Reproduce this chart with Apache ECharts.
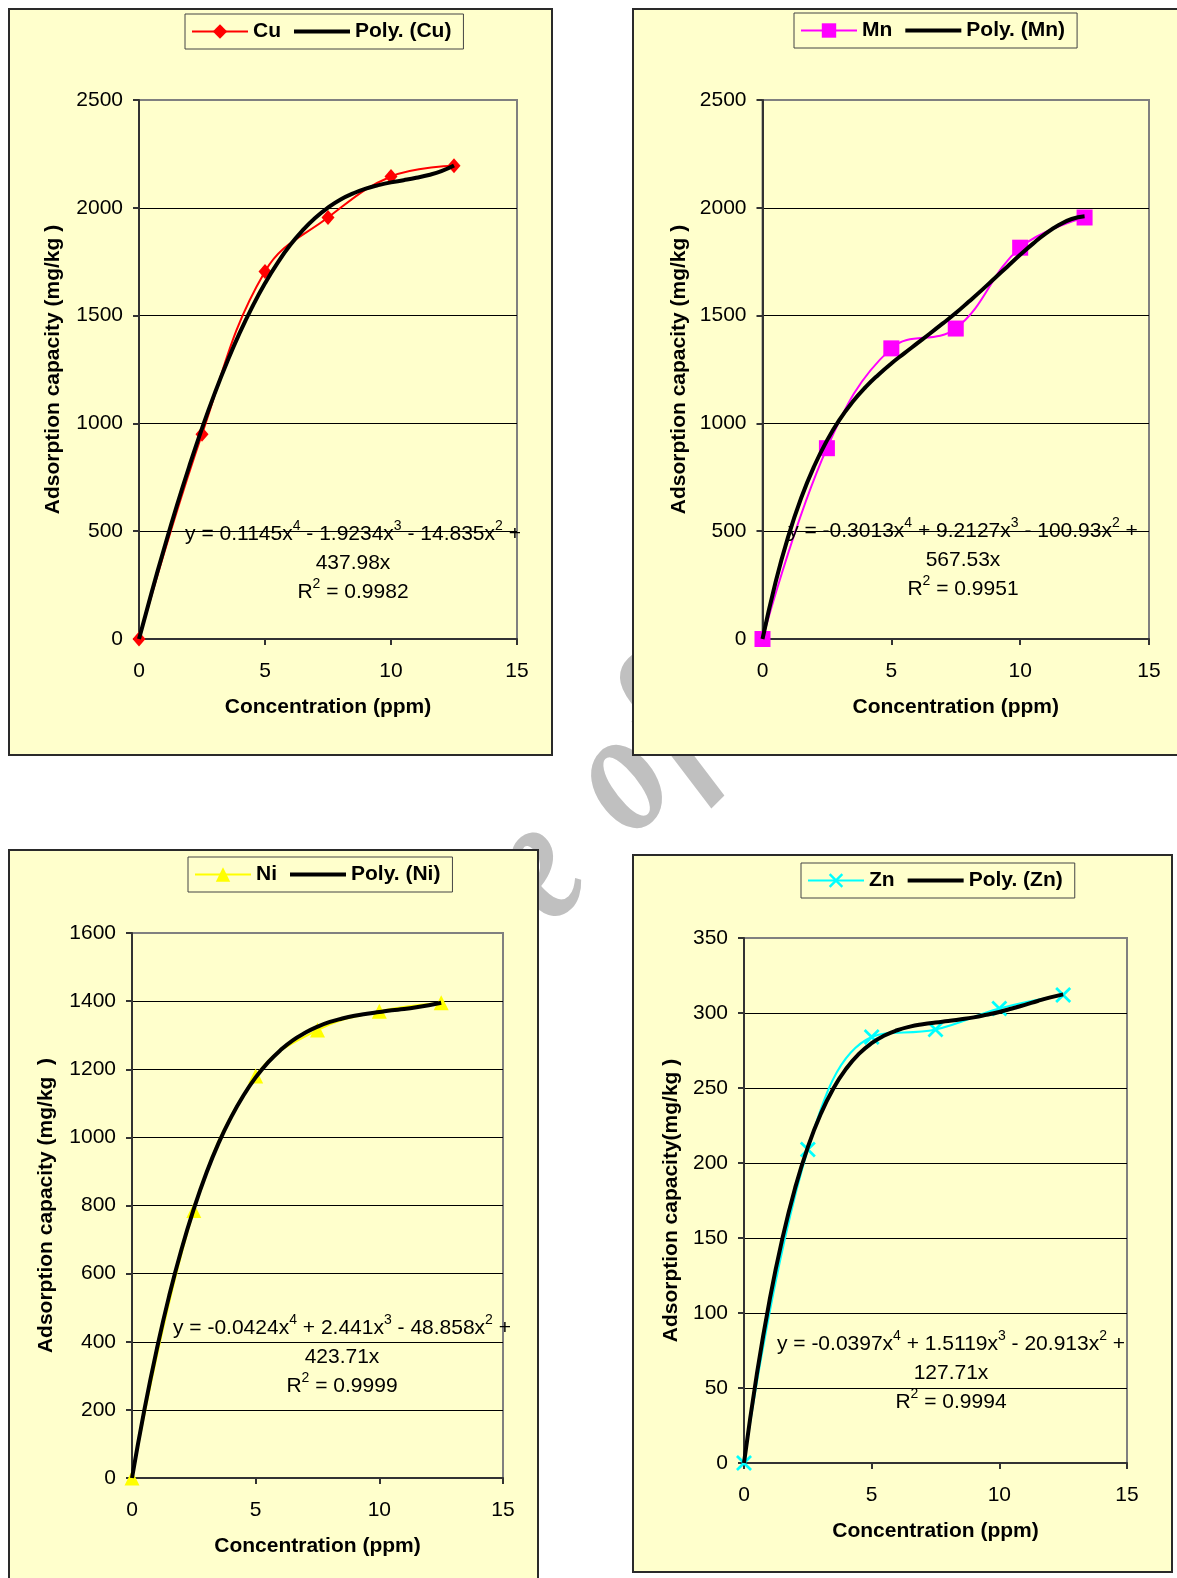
<!DOCTYPE html>
<html><head><meta charset="utf-8">
<script src="https://cdn.jsdelivr.net/npm/echarts@6/dist/echarts.min.js"></script>
<style>html,body{margin:0;padding:0;background:#fff}#c{width:1177px;height:1578px}</style>
</head><body><div id="c"></div>
<script>
// ---------- data ----------
const concentrations = [0, 2.5, 5, 7.5, 10, 12.5];
const cuValues = [0, 950, 1705, 1955, 2145, 2195];
const mnValues = [0, 885, 1348, 1440, 1815, 1955];
const niValues = [0, 785, 1180, 1315, 1370, 1395];
const znValues = [0, 209, 284, 289, 303, 312];

// polynomial trend lines
const trendX  = [0, 0.5, 1, 1.5, 2, 2.5, 3, 3.5, 4, 4.5, 5, 5.5, 6, 6.5, 7, 7.5, 8, 8.5, 9, 9.5, 10, 10.5, 11, 11.5, 12, 12.5];
const cuTrend = [0, 215, 421, 618, 803, 977, 1138, 1286, 1421, 1542, 1650, 1745, 1827, 1896, 1954, 2001, 2039, 2067, 2089, 2105, 2118, 2128, 2139, 2152, 2170, 2196];
const mnTrend = [0, 260, 476, 654, 800, 920, 1019, 1100, 1168, 1226, 1278, 1325, 1371, 1417, 1464, 1512, 1564, 1617, 1672, 1727, 1782, 1834, 1881, 1920, 1948, 1961];
const niTrend = [0, 200, 377, 534, 671, 790, 894, 983, 1058, 1122, 1176, 1220, 1256, 1285, 1307, 1325, 1339, 1349, 1357, 1363, 1368, 1373, 1377, 1382, 1388, 1395];
const znTrend = [0, 58.8, 108.3, 149.4, 183.2, 210.6, 232.5, 249.7, 262.8, 272.7, 279.9, 285.0, 288.5, 290.9, 292.5, 293.7, 294.7, 295.8, 297.1, 298.8, 300.7, 303.0, 305.4, 308.0, 310.4, 312.4];

const xTicks   = [0, 5, 10, 15];
const cuYTicks = [0, 500, 1000, 1500, 2000, 2500];
const mnYTicks = [0, 500, 1000, 1500, 2000, 2500];
const niYTicks = [0, 200, 400, 600, 800, 1000, 1200, 1400, 1600];
const znYTicks = [0, 50, 100, 150, 200, 250, 300, 350];

const metals = ['Cu', 'Mn', 'Ni', 'Zn'];
const xTitle = 'Concentration (ppm)';
const yTitles = ['Adsorption capacity (mg/kg )', 'Adsorption capacity (mg/kg )', 'Adsorption capacity (mg/kg  )', 'Adsorption capacity(mg/kg )'];
const cuEquation = ['y = 0.1145x^4 - 1.9234x^3 - 14.835x^2 +', '437.98x', 'R^2 = 0.9982'];
const mnEquation = ['y = -0.3013x^4 + 9.2127x^3 - 100.93x^2 +', '567.53x', 'R^2 = 0.9951'];
const niEquation = ['y = -0.0424x^4 + 2.441x^3 - 48.858x^2 +', '423.71x', 'R^2 = 0.9999'];
const znEquation = ['y = -0.0397x^4 + 1.5119x^3 - 20.913x^2 +', '127.71x', 'R^2 = 0.9994'];
const watermarkGlyphs = ['e', 'o', 'f'];

// ---------- layout / style ----------
const FONT = '"Liberation Sans", Arial, Helvetica, sans-serif';
const values = [cuValues, mnValues, niValues, znValues];
const trends = [cuTrend, mnTrend, niTrend, znTrend];
const yTicks = [cuYTicks, mnYTicks, niYTicks, znYTicks];
const equations = [cuEquation, mnEquation, niEquation, znEquation];
const XSYM = 'path://M0,1.2 L1.2,0 L5,3.8 L8.8,0 L10,1.2 L6.2,5 L10,8.8 L8.8,10 L5,6.2 L1.2,10 L0,8.8 L3.8,5 Z';
const styles = [
  {color: '#FF0000', symbol: 'diamond', size: [13, 15]},
  {color: '#FF00FF', symbol: 'rect', size: 16},
  {color: '#FFFF00', symbol: 'triangle', size: 15},
  {color: '#00FFFF', symbol: XSYM, size: 16}
];
const layout = [
  {panel: [9, 9, 543, 746],  grid: {left: 139, top: 100, width: 378, height: 539}, legend: {left: 185, top: 14}, eq: [353, 519.5], yGap: 75},
  {panel: [633, 9, 600, 746], grid: {left: 762.5, top: 100, width: 386.5, height: 539}, legend: {left: 794, top: 13}, eq: [963, 516.5], yGap: 73},
  {panel: [9, 850, 529, 800], grid: {left: 132, top: 933, width: 371, height: 545}, legend: {left: 188, top: 857}, eq: [342, 1313.5], yGap: 75},
  {panel: [633, 855, 539, 717], grid: {left: 744, top: 938, width: 383, height: 525}, legend: {left: 801, top: 863}, eq: [951, 1329.5], yGap: 62}
];
const wmLayout = [[540, 872], [624, 782], [668, 732]];

function toRich(line) {
  const parts = line.split(/\^(\d)/);
  let s = '';
  parts.forEach((p, i) => {
    if (!p) return;
    s += (i % 2 ? '{s|' : '{t|') + p + '}';
  });
  return s;
}

const graphics = [];
watermarkGlyphs.forEach((g, i) => {
  graphics.push({type: 'text', x: wmLayout[i][0], y: wmLayout[i][1], rotation: 45 * Math.PI / 180, scaleX: 0.78, z: -2,
    style: {text: g, font: 'italic bold 180px "Liberation Serif", "DejaVu Serif", serif', fill: '#C0C0C0', align: 'center', verticalAlign: 'middle'}});
});
layout.forEach(l => {
  graphics.push({type: 'rect', z: -1, shape: {x: l.panel[0], y: l.panel[1], width: l.panel[2], height: l.panel[3]},
    style: {fill: '#FFFFCC', stroke: '#2a2a2a', lineWidth: 2}});
});
layout.forEach((l, i) => {
  graphics.push({type: 'text', z: 10, x: l.eq[0], y: l.eq[1],
    style: {text: equations[i].map(toRich).join('\n'), align: 'center', verticalAlign: 'top', fill: '#000',
      rich: {t: {fontSize: 21, lineHeight: 29, fontFamily: FONT, fill: '#000'},
             s: {fontSize: 14, verticalAlign: 'top', fontFamily: FONT, fill: '#000'}}}});
});

const axisLineStyle = {color: '#333', width: 2};
const option = {
  animation: false,
  backgroundColor: '#ffffff',
  textStyle: {fontFamily: FONT},
  graphic: {elements: graphics},
  grid: layout.map(l => Object.assign({show: true, borderColor: '#808080', borderWidth: 2, backgroundColor: 'transparent'}, l.grid)),
  legend: layout.map((l, i) => ({
    left: l.legend.left, top: l.legend.top, orient: 'horizontal',
    data: [
      {name: metals[i], lineStyle: {width: 2}},
      {name: 'Poly. (' + metals[i] + ')', itemStyle: {opacity: 0}, lineStyle: {width: 4}}
    ],
    itemWidth: 56, itemHeight: 18, itemGap: 11, padding: [7, 12, 7, 6],
    borderColor: '#444', borderWidth: 1, backgroundColor: '#FFFFCC', borderRadius: 0,
    selectedMode: false,
    textStyle: {fontSize: 21, fontWeight: 'bold', color: '#000', fontFamily: FONT}
  })),
  xAxis: layout.map((l, i) => ({
    type: 'value', gridIndex: i, min: xTicks[0], max: xTicks[xTicks.length - 1], interval: xTicks[1] - xTicks[0],
    axisLine: {show: true, lineStyle: axisLineStyle},
    axisTick: {show: true, inside: false, length: 6, lineStyle: axisLineStyle},
    axisLabel: {fontSize: 21, color: '#000', margin: 22, fontFamily: FONT, formatter: v => String(v)},
    splitLine: {show: false},
    name: xTitle, nameLocation: 'middle', nameGap: 58,
    nameTextStyle: {fontSize: 21, fontWeight: 'bold', color: '#000', fontFamily: FONT}
  })),
  yAxis: layout.map((l, i) => ({
    type: 'value', gridIndex: i, min: yTicks[i][0], max: yTicks[i][yTicks[i].length - 1], interval: yTicks[i][1] - yTicks[i][0],
    axisLine: {show: true, lineStyle: axisLineStyle},
    axisTick: {show: true, inside: false, length: 6, lineStyle: axisLineStyle},
    axisLabel: {fontSize: 21, color: '#000', margin: 16, fontFamily: FONT, formatter: v => String(v)},
    splitLine: {show: true, showMinLine: false, showMaxLine: false, lineStyle: {color: '#000', width: 1}},
    name: yTitles[i], nameLocation: 'middle', nameGap: l.yGap, nameRotate: 90,
    nameTextStyle: {fontSize: 21, fontWeight: 'bold', color: '#000', fontFamily: FONT}
  })),
  series: []
};
metals.forEach((m, i) => {
  const st = styles[i];
  option.series.push({
    name: m, type: 'line', xAxisIndex: i, yAxisIndex: i, smooth: 0.4, clip: false,
    data: concentrations.map((x, k) => [x, values[i][k]]),
    symbol: st.symbol, symbolSize: st.size, showSymbol: true,
    itemStyle: {color: st.color, borderWidth: 0},
    lineStyle: {color: st.color, width: 2},
    z: 2
  });
  option.series.push({
    name: 'Poly. (' + m + ')', type: 'line', xAxisIndex: i, yAxisIndex: i, smooth: true,
    data: trendX.map((x, k) => [x, trends[i][k]]),
    symbol: 'none', showSymbol: false,
    itemStyle: {color: '#000'},
    lineStyle: {color: '#000', width: 4},
    z: 3
  });
});

const chart = echarts.init(document.getElementById('c'), null, {renderer: 'canvas', width: 1177, height: 1578});
chart.setOption(option);
</script>
</body></html>
